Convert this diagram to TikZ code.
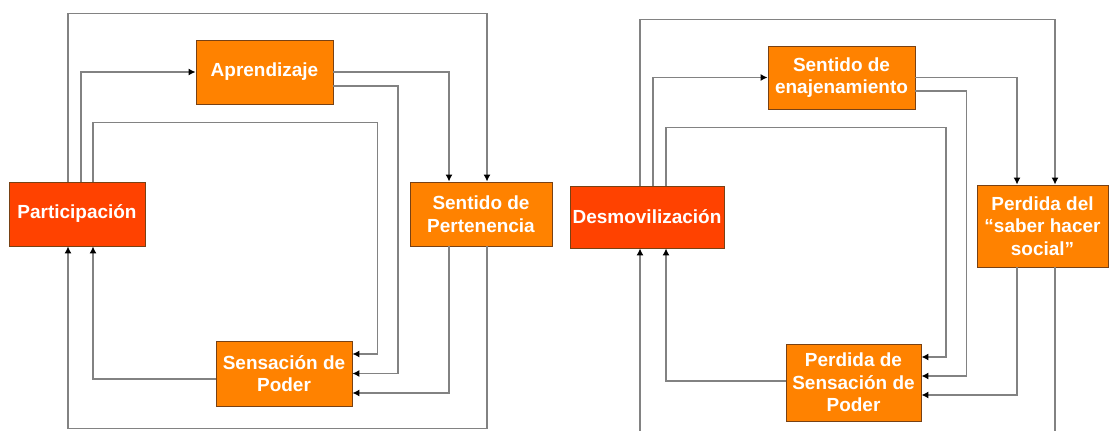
\documentclass[tikz,border=0pt]{standalone}
\usepackage{fontspec}
\setmainfont{Liberation Sans}
\usetikzlibrary{arrows.meta,calc}

\definecolor{boxorange}{RGB}{255,130,0}
\definecolor{boxred}{RGB}{255,66,0}
\definecolor{boxedge}{RGB}{120,65,20}
\definecolor{linkgray}{RGB}{130,130,130}

\begin{document}
\begin{tikzpicture}[scale=1, line width=0.25mm,
  box/.style={draw=boxedge, line width=0.5pt, fill=boxorange, text=white,
    font=\fontsize{10.8}{12.8}\selectfont\bfseries, align=center, inner sep=0pt},
  hot/.style={box, fill=boxred},
  link/.style={draw=linkgray, -{Latex[length=4pt,width=4pt,color=black]}},
  plain/.style={draw=linkgray}]
  \useasboundingbox (0,0) rectangle (22.2,8.6);
  % Left cycle: boxes
  \node[box, minimum width=2.74cm, minimum height=1.28cm] (apr) at (5.29,7.16) {Aprendizaje};
  \node[hot, minimum width=2.72cm, minimum height=1.28cm] (part) at (1.54,4.32) {Participación};
  \node[box, minimum width=2.84cm, minimum height=1.28cm] (pert) at (9.62,4.32) {Sentido de\\Pertenencia};
  \node[box, minimum width=2.72cm, minimum height=1.30cm] (poder) at (5.68,1.13) {Sensación de\\Poder};
  % Left cycle: links
  \draw[link] ($(part.north)+(-0.18,0)$) -- ++(0,3.36) -| ($(pert.north)+(0.12,0)$);
  \draw[link] ($(pert.south)+(0.12,0)$) -- ++(0,-3.64) -| ($(part.south)+(-0.18,0)$);
  \draw[link] ($(part.north)+(0.08,0)$) |- (apr.west);
  \draw[link] ($(part.north)+(0.32,0)$) -- ++(0,1.18) -- ++(5.69,0) |- ($(poder.east)+(0,0.39)$);
  \draw[link] (apr.east) -| ($(pert.north)+(-0.64,0)$);
  \draw[link] ($(apr.east)+(0,-0.28)$) -- ++(1.29,0) |- (poder.east);
  \draw[link] ($(pert.south)+(-0.64,0)$) |- ($(poder.east)+(0,-0.39)$);
  \draw[link] ($(poder.west)+(0,-0.11)$) -| ($(part.south)+(0.32,0)$);
  % Right cycle: boxes
  \node[box, minimum width=2.94cm, minimum height=1.26cm] (enaj) at (16.83,7.05) {Sentido de\\enajenamiento};
  \node[hot, minimum width=3.08cm, minimum height=1.24cm] (desm) at (12.94,4.26) {Desmovilización};
  \node[box, minimum width=2.62cm, minimum height=1.64cm] (saber) at (20.85,4.08) {Perdida del\\“saber hacer\\social”};
  \node[box, minimum width=2.70cm, minimum height=1.54cm] (psens) at (17.07,0.95) {Perdida de\\Sensación de\\Poder};
  % Right cycle: links
  \draw[link] ($(desm.north)+(-0.14,0)$) -- ++(0,3.32) -| ($(saber.north)+(0.25,0)$);
  \draw[plain] ($(saber.south)+(0.25,0)$) -- ++(0,-3.45);
  \draw[link] ($(desm.south)+(-0.14,-3.8)$) -- ($(desm.south)+(-0.14,0)$);
  \draw[link] ($(desm.north)+(0.12,0)$) |- (enaj.west);
  \draw[link] ($(desm.north)+(0.38,0)$) -- ++(0,1.16) -- ++(5.6,0) |- ($(psens.east)+(0,0.51)$);
  \draw[link] (enaj.east) -| ($(saber.north)+(-0.51,0)$);
  \draw[link] ($(enaj.east)+(0,-0.27)$) -- ++(1.02,0) |- ($(psens.east)+(0,0.13)$);
  \draw[link] ($(saber.south)+(-0.51,0)$) |- ($(psens.east)+(0,-0.25)$);
  \draw[link] ($(psens.west)+(0,0.03)$) -| ($(desm.south)+(0.38,0)$);
\end{tikzpicture}
\end{document}
